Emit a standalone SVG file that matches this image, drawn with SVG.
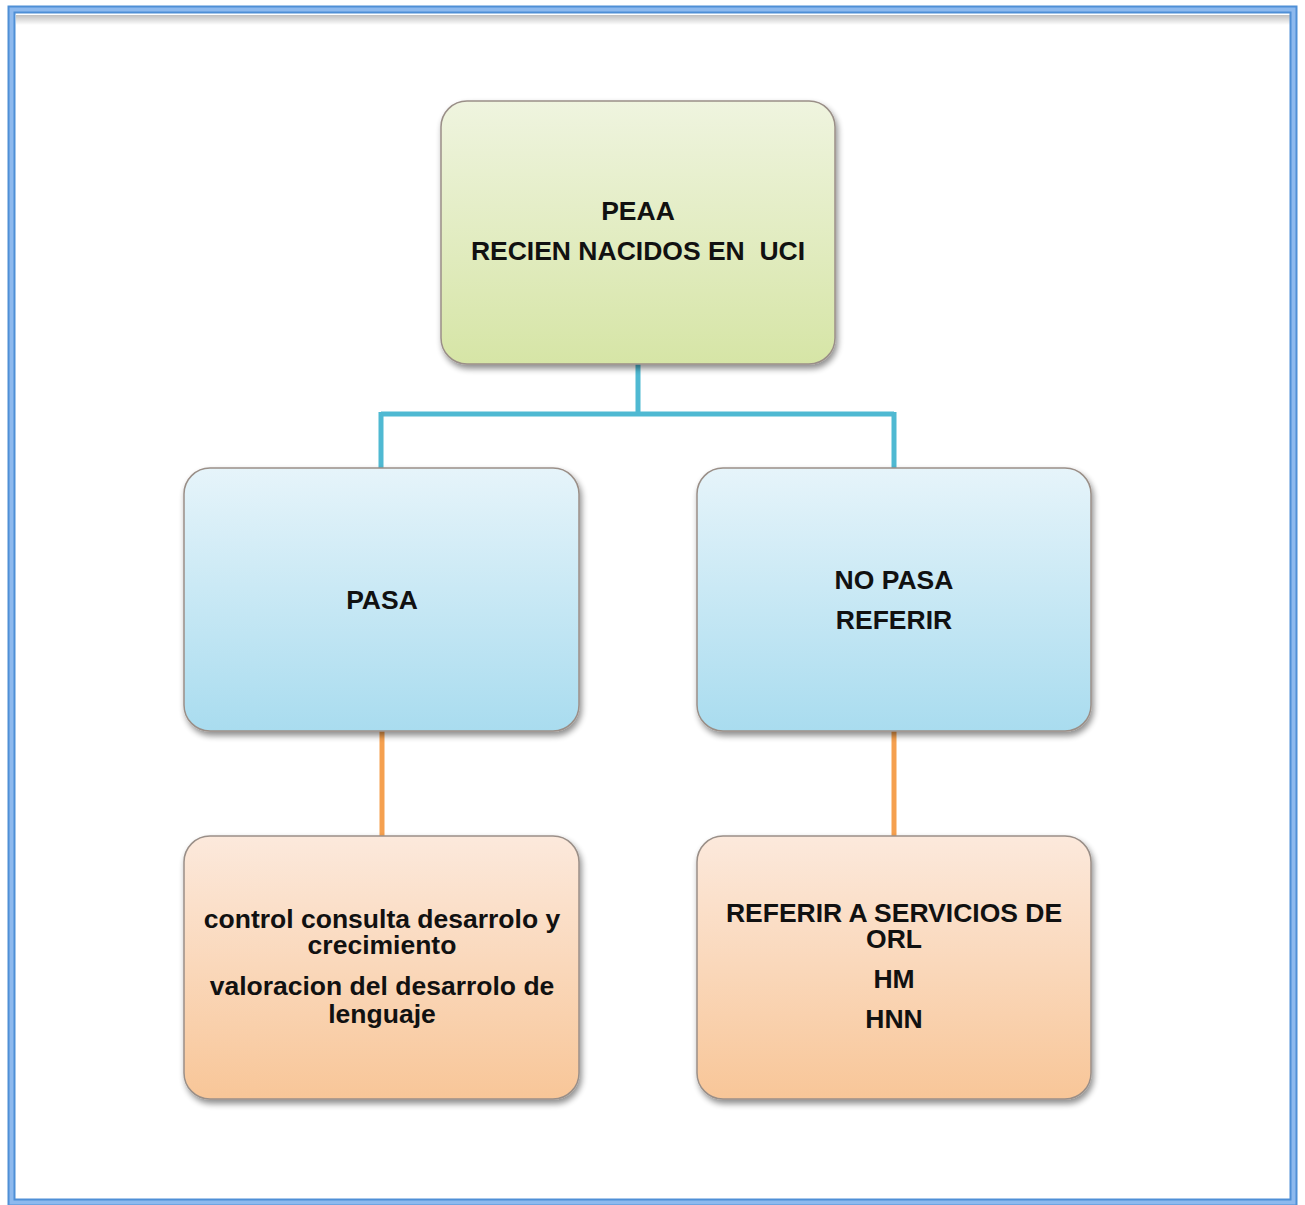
<svg xmlns="http://www.w3.org/2000/svg" width="1305" height="1205" viewBox="0 0 1305 1205">
  <defs>
    <linearGradient id="gGreen" x1="0" y1="0" x2="0" y2="1">
      <stop offset="0" stop-color="#eff4df"/>
      <stop offset="1" stop-color="#d6e5a6"/>
    </linearGradient>
    <linearGradient id="gBlue" x1="0" y1="0" x2="0" y2="1">
      <stop offset="0" stop-color="#e6f4fa"/>
      <stop offset="1" stop-color="#a9dcef"/>
    </linearGradient>
    <linearGradient id="gPeach" x1="0" y1="0" x2="0" y2="1">
      <stop offset="0" stop-color="#fce9dc"/>
      <stop offset="1" stop-color="#f8c698"/>
    </linearGradient>
    <linearGradient id="gInnerShade" x1="0" y1="0" x2="0" y2="1">
      <stop offset="0" stop-color="#000" stop-opacity="0.25"/>
      <stop offset="1" stop-color="#000" stop-opacity="0"/>
    </linearGradient>
    <filter id="shadow" x="-10%" y="-10%" width="125%" height="125%">
      <feGaussianBlur in="SourceAlpha" stdDeviation="3"/>
      <feOffset dx="2" dy="4" result="b"/>
      <feComponentTransfer><feFuncA type="linear" slope="0.45"/></feComponentTransfer>
      <feMerge><feMergeNode/><feMergeNode in="SourceGraphic"/></feMerge>
    </filter>
    <style>
      .box { stroke: #9a8f88; stroke-width: 1.5; filter: url(#shadow); }
      .lbl { font-family: "Liberation Sans", Arial, sans-serif; font-weight: bold; font-size: 26.5px; fill: #111; text-anchor: middle; }
      .teal { stroke: #4fb9d2; stroke-width: 5; fill: none; }
      .orange { stroke: #f5a04f; stroke-width: 5; fill: none; }
    </style>
  </defs>

  <rect width="1305" height="1205" fill="#ffffff"/>

  <!-- page frame: blue double rule with a soft shade along the inside top edge -->
  <g id="frame">
    <rect x="16" y="15" width="1274" height="10" fill="url(#gInnerShade)"/>
    <rect x="11" y="9" width="1283" height="1194" fill="none" stroke="#8db9ee" stroke-width="6"/>
    <rect x="8.5" y="6.5" width="1288" height="1199" fill="none" stroke="#4f8fd6" stroke-width="2"/>
    <rect x="14.5" y="12.5" width="1276" height="1187" fill="none" stroke="#4f8fd6" stroke-width="2"/>
  </g>

  <!-- connectors -->
  <g id="connectors">
    <path class="teal" d="M638 364 V414 M381 414 H894 M381 412 V468 M894 412 V468"/>
    <path class="orange" d="M382 731 V836 M894 731 V836"/>
  </g>

  <g id="node-peaa">
    <rect class="box" x="441" y="101" width="394" height="263" rx="26" fill="url(#gGreen)"/>
    <text class="lbl" x="638" y="220">PEAA</text>
    <text class="lbl" x="638" y="260" xml:space="preserve">RECIEN NACIDOS EN  UCI</text>
  </g>

  <g id="node-pasa">
    <rect class="box" x="184" y="468" width="395" height="263" rx="26" fill="url(#gBlue)"/>
    <text class="lbl" x="382" y="609">PASA</text>
  </g>

  <g id="node-nopasa">
    <rect class="box" x="697" y="468" width="394" height="263" rx="26" fill="url(#gBlue)"/>
    <text class="lbl" x="894" y="589">NO PASA</text>
    <text class="lbl" x="894" y="629">REFERIR</text>
  </g>

  <g id="node-control">
    <rect class="box" x="184" y="836" width="395" height="263" rx="26" fill="url(#gPeach)"/>
    <text class="lbl" x="382" y="928">control consulta desarrolo y</text>
    <text class="lbl" x="382" y="954">crecimiento</text>
    <text class="lbl" x="382" y="995">valoracion del desarrolo de</text>
    <text class="lbl" x="382" y="1023">lenguaje</text>
  </g>

  <g id="node-referir">
    <rect class="box" x="697" y="836" width="394" height="263" rx="26" fill="url(#gPeach)"/>
    <text class="lbl" x="894" y="922">REFERIR A SERVICIOS DE</text>
    <text class="lbl" x="894" y="948">ORL</text>
    <text class="lbl" x="894" y="988">HM</text>
    <text class="lbl" x="894" y="1028">HNN</text>
  </g>
</svg>
